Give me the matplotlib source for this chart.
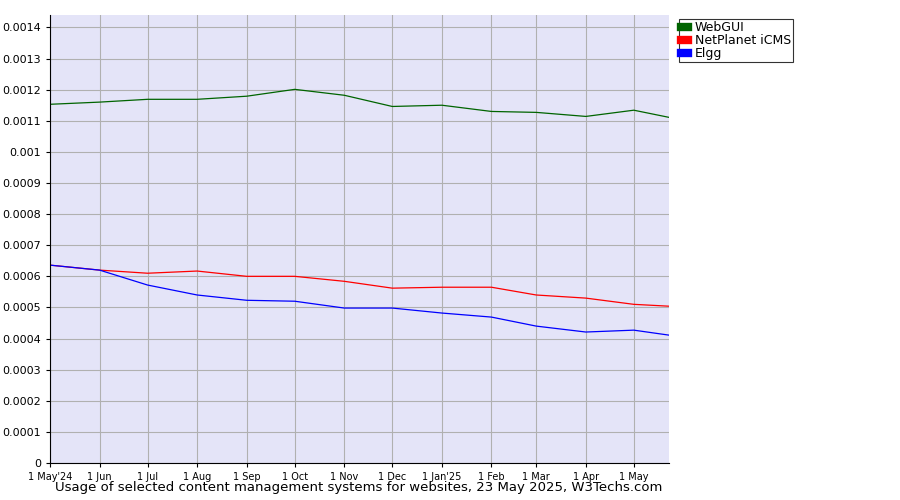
import matplotlib
matplotlib.use("Agg")
import matplotlib.pyplot as plt
import datetime as dt

dates = ["2024-05-01","2024-06-01","2024-07-01","2024-08-01","2024-09-01","2024-10-01","2024-11-01",
         "2024-12-01","2025-01-01","2025-02-01","2025-03-01","2025-04-01","2025-05-01","2025-05-23"]
webgui = [0.001153,0.00116,0.001169,0.001169,0.001179,0.001201,0.001182,0.001146,0.00115,0.00113,0.001127,0.001114,0.001134,0.001111]
netplanet = [0.000636,0.00062,0.00061,0.000617,0.0006,0.0006,0.000584,0.000562,0.000565,0.000565,0.00054,0.00053,0.00051,0.000504]
elgg = [0.000636,0.00062,0.000572,0.00054,0.000523,0.00052,0.000498,0.000498,0.000482,0.000469,0.00044,0.000421,0.000427,0.000411]
tick_labels = ["1 May'24","1 Jun","1 Jul","1 Aug","1 Sep","1 Oct","1 Nov","1 Dec","1 Jan'25","1 Feb","1 Mar","1 Apr","1 May"]

x = [dt.datetime.strptime(d, "%Y-%m-%d") for d in dates]
fig = plt.figure(figsize=(9,5), dpi=100)
ax = fig.add_axes([50/900, 37/500, 619/900, 448/500])
ax.set_facecolor("#e4e4f8")
ax.plot(x, webgui, color="#006400", lw=0.9, label="WebGUI")
ax.plot(x, netplanet, color="#ff0000", lw=0.9, label="NetPlanet iCMS")
ax.plot(x, elgg, color="#0000ff", lw=0.9, label="Elgg")
ax.set_xlim(x[0], x[-1])
ax.set_ylim(0, 0.00144)
ax.set_yticks([i*0.0001 for i in range(15)])
ax.set_yticklabels(["0"]+[f"{i*0.0001:.4f}".rstrip("0") for i in range(1,15)], fontsize=8)
ax.set_xticks(x[:13])
ax.set_xticklabels(tick_labels, fontsize=7)
ax.grid(True, color="#b0b0b0", lw=0.8)
ax.tick_params(length=3)
for s in ["top","right"]:
    ax.spines[s].set_visible(False)
leg = fig.legend(loc="upper left", bbox_to_anchor=(679/900, 1-19/500), fontsize=9, frameon=True,
                 fancybox=False, edgecolor="black", handlelength=0.6, handleheight=0.7,
                 borderpad=0.15, labelspacing=0.0, handletextpad=0.5, borderaxespad=0)
leg.get_frame().set_linewidth(0.8)
for h in leg.legend_handles:
    h.set_linewidth(6)
fig.text(359/900, 1-488/500, "Usage of selected content management systems for websites, 23 May 2025, W3Techs.com",
         ha="center", va="center", fontsize=9.5)
fig.savefig("out.png", dpi=100)
